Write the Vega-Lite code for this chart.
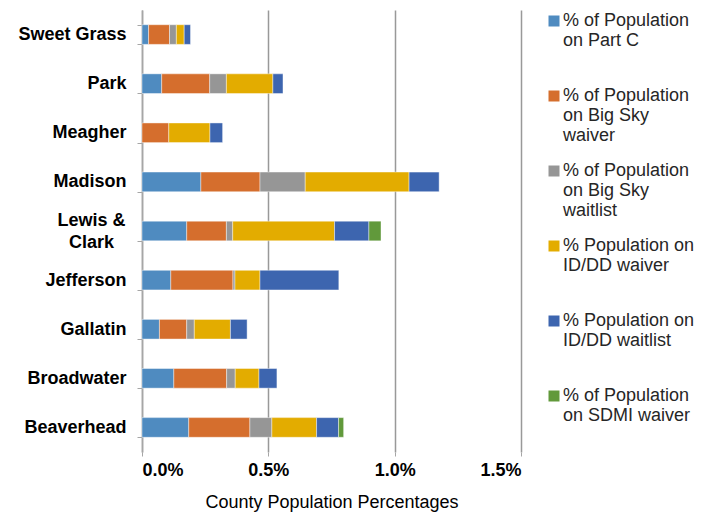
{
  "$schema": "https://vega.github.io/schema/vega-lite/v6.json",
  "autosize": "none",
  "width": 379,
  "height": 442,
  "padding": {"left": 142, "top": 10, "right": 187, "bottom": 63},
  "background": "white",
  "config": {"font": "Liberation Sans", "view": {"stroke": null}},
  "data": {"values": [
    {"county": "Sweet Grass", "series": "% of Population on Part C", "k": 1, "value": 0.00026},
    {"county": "Sweet Grass", "series": "% of Population on Big Sky waiver", "k": 2, "value": 0.00083},
    {"county": "Sweet Grass", "series": "% of Population on Big Sky waitlist", "k": 3, "value": 0.00027},
    {"county": "Sweet Grass", "series": "% Population on ID/DD waiver", "k": 4, "value": 0.00031},
    {"county": "Sweet Grass", "series": "% Population on ID/DD waitlist", "k": 5, "value": 0.00025},
    {"county": "Park", "series": "% of Population on Part C", "k": 1, "value": 0.00078},
    {"county": "Park", "series": "% of Population on Big Sky waiver", "k": 2, "value": 0.0019},
    {"county": "Park", "series": "% of Population on Big Sky waitlist", "k": 3, "value": 0.00066},
    {"county": "Park", "series": "% Population on ID/DD waiver", "k": 4, "value": 0.00184},
    {"county": "Park", "series": "% Population on ID/DD waitlist", "k": 5, "value": 0.0004},
    {"county": "Meagher", "series": "% of Population on Big Sky waiver", "k": 2, "value": 0.00106},
    {"county": "Meagher", "series": "% Population on ID/DD waiver", "k": 4, "value": 0.00163},
    {"county": "Meagher", "series": "% Population on ID/DD waitlist", "k": 5, "value": 0.0005},
    {"county": "Madison", "series": "% of Population on Part C", "k": 1, "value": 0.00233},
    {"county": "Madison", "series": "% of Population on Big Sky waiver", "k": 2, "value": 0.00234},
    {"county": "Madison", "series": "% of Population on Big Sky waitlist", "k": 3, "value": 0.00179},
    {"county": "Madison", "series": "% Population on ID/DD waiver", "k": 4, "value": 0.00411},
    {"county": "Madison", "series": "% Population on ID/DD waitlist", "k": 5, "value": 0.00119},
    {"county": "Lewis & Clark", "series": "% of Population on Part C", "k": 1, "value": 0.00177},
    {"county": "Lewis & Clark", "series": "% of Population on Big Sky waiver", "k": 2, "value": 0.00157},
    {"county": "Lewis & Clark", "series": "% of Population on Big Sky waitlist", "k": 3, "value": 0.00025},
    {"county": "Lewis & Clark", "series": "% Population on ID/DD waiver", "k": 4, "value": 0.00403},
    {"county": "Lewis & Clark", "series": "% Population on ID/DD waitlist", "k": 5, "value": 0.00136},
    {"county": "Lewis & Clark", "series": "% of Population on SDMI waiver", "k": 6, "value": 0.00048},
    {"county": "Jefferson", "series": "% of Population on Part C", "k": 1, "value": 0.00114},
    {"county": "Jefferson", "series": "% of Population on Big Sky waiver", "k": 2, "value": 0.00246},
    {"county": "Jefferson", "series": "% of Population on Big Sky waitlist", "k": 3, "value": 0.00008},
    {"county": "Jefferson", "series": "% Population on ID/DD waiver", "k": 4, "value": 0.00099},
    {"county": "Jefferson", "series": "% Population on ID/DD waitlist", "k": 5, "value": 0.00312},
    {"county": "Gallatin", "series": "% of Population on Part C", "k": 1, "value": 0.00069},
    {"county": "Gallatin", "series": "% of Population on Big Sky waiver", "k": 2, "value": 0.00108},
    {"county": "Gallatin", "series": "% of Population on Big Sky waitlist", "k": 3, "value": 0.0003},
    {"county": "Gallatin", "series": "% Population on ID/DD waiver", "k": 4, "value": 0.00143},
    {"county": "Gallatin", "series": "% Population on ID/DD waitlist", "k": 5, "value": 0.00066},
    {"county": "Broadwater", "series": "% of Population on Part C", "k": 1, "value": 0.00126},
    {"county": "Broadwater", "series": "% of Population on Big Sky waiver", "k": 2, "value": 0.00209},
    {"county": "Broadwater", "series": "% of Population on Big Sky waitlist", "k": 3, "value": 0.00034},
    {"county": "Broadwater", "series": "% Population on ID/DD waiver", "k": 4, "value": 0.00094},
    {"county": "Broadwater", "series": "% Population on ID/DD waitlist", "k": 5, "value": 0.00071},
    {"county": "Beaverhead", "series": "% of Population on Part C", "k": 1, "value": 0.00185},
    {"county": "Beaverhead", "series": "% of Population on Big Sky waiver", "k": 2, "value": 0.00242},
    {"county": "Beaverhead", "series": "% of Population on Big Sky waitlist", "k": 3, "value": 0.00087},
    {"county": "Beaverhead", "series": "% Population on ID/DD waiver", "k": 4, "value": 0.00177},
    {"county": "Beaverhead", "series": "% Population on ID/DD waitlist", "k": 5, "value": 0.00087},
    {"county": "Beaverhead", "series": "% of Population on SDMI waiver", "k": 6, "value": 0.0002}
  ]},
  "mark": {"type": "bar", "stroke": "white", "strokeWidth": 0.6, "strokeOpacity": 0.7},
  "encoding": {
    "y": {
      "field": "county", "type": "nominal",
      "sort": ["Sweet Grass", "Park", "Meagher", "Madison", "Lewis & Clark", "Jefferson", "Gallatin", "Broadwater", "Beaverhead"],
      "scale": {"paddingInner": 0.6, "paddingOuter": 0.3},
      "axis": {
        "title": null,
        "domainColor": "#a6a6a6", "domainWidth": 1.5,
        "tickColor": "#a6a6a6", "tickSize": 5, "tickWidth": 1, "tickBand": "extent",
        "labelFont": "Liberation Sans", "labelFontSize": 18, "labelFontWeight": "bold", "labelColor": "#000000",
        "labelPadding": {"condition": {"test": "datum.value == 'Lewis & Clark'", "value": 46}, "value": 11},
        "labelAlign": {"condition": {"test": "datum.value == 'Lewis & Clark'", "value": "center"}, "value": "right"},
        "labelOffset": {"condition": {"test": "datum.value == 'Lewis & Clark'", "value": -11}, "value": 0},
        "labelLineHeight": 22,
        "labelExpr": "datum.value == 'Lewis & Clark' ? ['Lewis &', 'Clark'] : datum.value"
      }
    },
    "x": {
      "field": "value", "type": "quantitative", "stack": "zero",
      "scale": {"domain": [0, 0.015], "nice": false},
      "axis": {
        "title": "County Population Percentages",
        "titleFont": "Liberation Sans", "titleFontSize": 18, "titleFontWeight": "normal", "titleColor": "#000000", "titlePadding": 14,
        "values": [0, 0.005, 0.01, 0.015], "format": ".1%",
        "labelFont": "Liberation Sans", "labelFontSize": 18, "labelFontWeight": "bold", "labelColor": "#000000", "labelPadding": 5,
        "domain": false, "ticks": true, "tickSize": 4, "tickColor": "#a6a6a6",
        "grid": true, "gridColor": "#999999", "gridWidth": 1.5
      }
    },
    "color": {
      "field": "series", "type": "nominal",
      "sort": ["% of Population on Part C", "% of Population on Big Sky waiver", "% of Population on Big Sky waitlist", "% Population on ID/DD waiver", "% Population on ID/DD waitlist", "% of Population on SDMI waiver"],
      "scale": {
        "domain": ["% of Population on Part C", "% of Population on Big Sky waiver", "% of Population on Big Sky waitlist", "% Population on ID/DD waiver", "% Population on ID/DD waitlist", "% of Population on SDMI waiver"],
        "range": ["#4F8BC0", "#D56E2D", "#969696", "#E3AC00", "#3D65AF", "#61993B"]
      },
      "legend": {
        "title": null, "orient": "none", "legendX": 403, "legendY": 2,
        "symbolType": "square", "symbolSize": 121, "symbolStrokeWidth": 0,
        "labelFont": "Liberation Sans", "labelFontSize": 18, "labelColor": "#262626",
        "labelBaseline": "middle", "labelLineHeight": 22, "labelLimit": 200, "labelOffset": 0,
        "rowPadding": 17,
        "labelExpr": "datum.value == '% of Population on Part C' ? ['% of Population', 'on Part C', ' '] : datum.value == '% of Population on Big Sky waiver' ? ['% of Population', 'on Big Sky', 'waiver'] : datum.value == '% of Population on Big Sky waitlist' ? ['% of Population', 'on Big Sky', 'waitlist'] : datum.value == '% Population on ID/DD waiver' ? ['% Population on', 'ID/DD waiver', ' '] : datum.value == '% Population on ID/DD waitlist' ? ['% Population on', 'ID/DD waitlist', ' '] : ['% of Population', 'on SDMI waiver', ' ']"
      }
    },
    "order": {"field": "k", "type": "quantitative"}
  }
}
